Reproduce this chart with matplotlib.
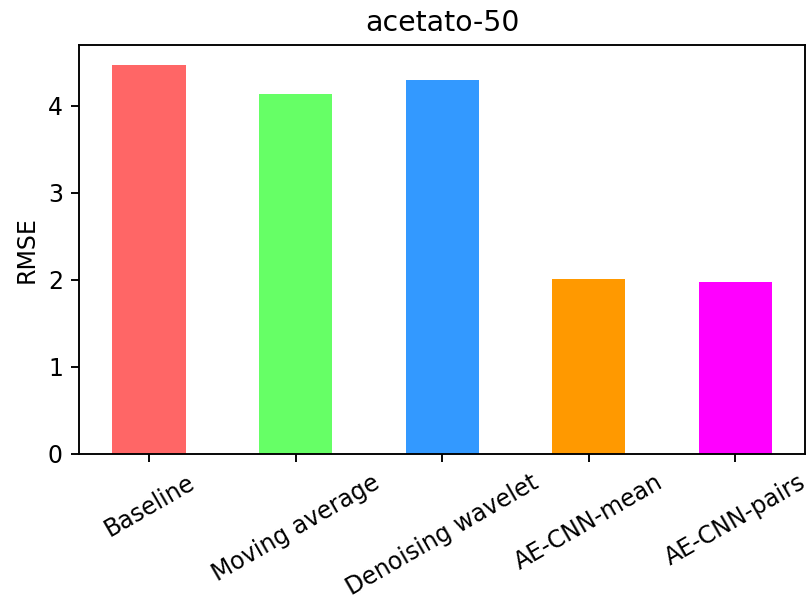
import matplotlib
matplotlib.use("Agg")
import matplotlib.pyplot as plt

methods = ["Baseline", "Moving average", "Denoising wavelet", "AE-CNN-mean", "AE-CNN-pairs"]
rmse = [4.475, 4.14, 4.30, 2.005, 1.98]
colors = ["#FF6666", "#66FF66", "#3399FF", "#FF9900", "#FF00FF"]

DPI = 170
fig = plt.figure(figsize=(811 / DPI, 601 / DPI), dpi=DPI)
ax = fig.add_axes([0.098, 0.245, 0.8945, 0.68])

x = range(len(methods))
ax.bar(x, rmse, width=0.5, color=colors)
ax.set_xticks(list(x))
ax.set_xticklabels(methods, rotation=30)
ax.set_ylabel("RMSE")
ax.set_title("acetato-50")

fig.savefig("out.png", dpi=DPI)
